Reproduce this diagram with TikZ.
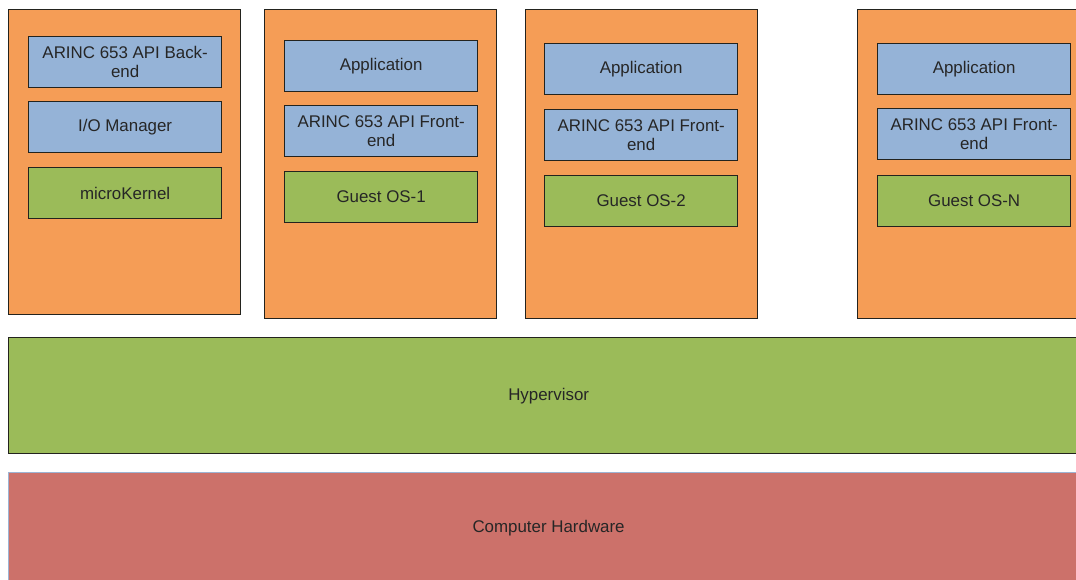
\documentclass[tikz,border=0pt]{standalone}
\usepackage{fontspec}
\setmainfont{Liberation Sans}
\definecolor{partorange}{RGB}{245,157,86}
\definecolor{apiblue}{RGB}{149,179,215}
\definecolor{osgreen}{RGB}{155,187,89}
\definecolor{hwred}{RGB}{204,113,106}
\definecolor{hwedge}{RGB}{157,180,211}
\definecolor{edgegray}{RGB}{35,35,30}

\begin{document}
\begin{tikzpicture}[x=1pt, y=-1pt,
    partition/.style={rectangle, draw=edgegray, line width=1.3pt, fill=partorange,
        minimum width=232pt, minimum height=305pt, anchor=north west, inner sep=0pt},
    layer/.style={rectangle, draw=edgegray, line width=1.3pt,
        minimum width=193pt, minimum height=51pt, anchor=north west, inner sep=0pt,
        align=center, text=black!85, font=\fontsize{16.9}{19.5}\selectfont},
    api/.style={layer, fill=apiblue},
    guest/.style={layer, fill=osgreen},
    band/.style={rectangle, anchor=north west, minimum width=1080pt, inner sep=0pt,
        text=black!85, font=\fontsize{16.9}{19.5}\selectfont}
]
    \useasboundingbox (0,0) rectangle (1076,579);

    % partitions
    \node[partition] (p0) at (8,9) {};
    \node[partition, minimum height=309pt] (p1) at (264,9) {};
    \node[partition, minimum height=309pt] (p2) at (525,9) {};
    \node[partition, minimum height=309pt] (pn) at (857,9) {};

    % system partition
    \node[api] (backend) at (28,36) {ARINC 653 API Back-\\end};
    \node[api] (iomgr) at (28,101) {I/O Manager};
    \node[guest] (ukernel) at (28,167) {microKernel};

    % guest partitions
    \node[api] (app1) at (284,40) {Application};
    \node[api] (front1) at (284,105) {ARINC 653 API Front-\\end};
    \node[guest] (os1) at (284,171) {Guest OS-1};

    \node[api] (app2) at (544,43) {Application};
    \node[api] (front2) at (544,109) {ARINC 653 API Front-\\end};
    \node[guest] (os2) at (544,175) {Guest OS-2};

    \node[api] (appn) at (877,43) {Application};
    \node[api] (frontn) at (877,108) {ARINC 653 API Front-\\end};
    \node[guest] (osn) at (877,175) {Guest OS-N};

    % lower layers
    \node[band, draw=edgegray, line width=1.3pt, fill=osgreen, minimum height=116pt]
        (hyper) at (8,337) {Hypervisor};
    \node[band, draw=hwedge, line width=1.2pt, fill=hwred, minimum height=112pt]
        (hw) at (8,472) {Computer Hardware};
\end{tikzpicture}
\end{document}
